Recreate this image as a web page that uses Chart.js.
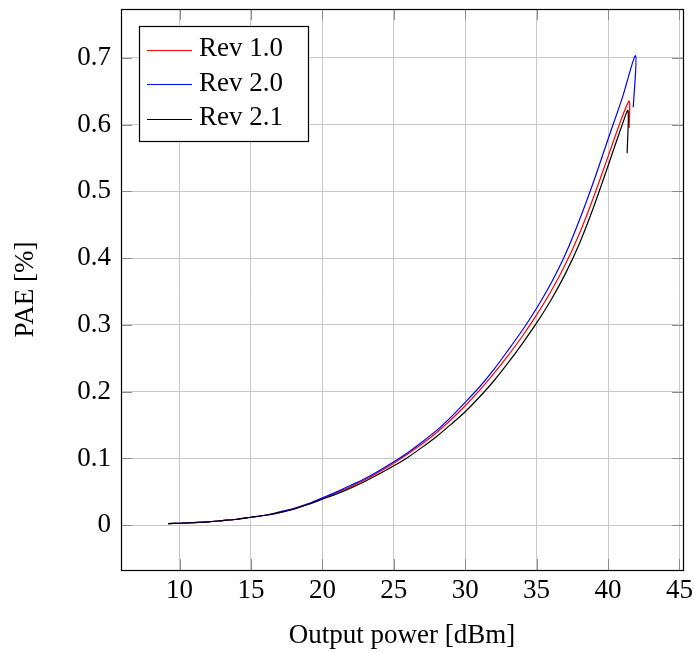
<!DOCTYPE html>
<html>
<head>
<meta charset="utf-8">
<script src="https://cdn.jsdelivr.net/npm/chart.js@4.4.1/dist/chart.umd.min.js"></script>
<style>
  html, body { margin: 0; padding: 0; background: #fff; }
  #wrap { width: 694px; height: 652px; }
</style>
</head>
<body>
<div id="wrap"><canvas id="chart" width="694" height="652"></canvas></div>
<script>
// output power [dBm] and PAE readings per revision
var rev10Pout = [9.2, 10, 11, 12, 13, 14, 15, 16, 17, 18, 19, 20, 21, 22, 23, 24, 25, 26, 27, 28, 29, 30, 31, 32, 33, 34, 35, 36, 37, 38, 39, 40, 41, 41.46, 41.52, 41.48];
var rev10Pae  = [0.0025, 0.003, 0.004, 0.005, 0.007, 0.009, 0.012, 0.015, 0.019, 0.025, 0.032, 0.040, 0.049, 0.058, 0.068, 0.080, 0.093, 0.107, 0.122, 0.139, 0.158, 0.179, 0.202, 0.227, 0.254, 0.283, 0.315, 0.350, 0.390, 0.437, 0.492, 0.552, 0.612, 0.635, 0.632, 0.595];

var rev20Pout = [9.2, 10, 11, 12, 13, 14, 15, 16, 17, 18, 19, 20, 21, 22, 23, 24, 25, 26, 27, 28, 29, 30, 31, 32, 33, 34, 35, 36, 37, 38, 39, 40, 41, 41.93, 41.77];
var rev20Pae  = [0.0025, 0.003, 0.004, 0.005, 0.007, 0.009, 0.012, 0.015, 0.020, 0.025, 0.032, 0.041, 0.050, 0.060, 0.070, 0.082, 0.095, 0.109, 0.125, 0.142, 0.162, 0.184, 0.207, 0.233, 0.262, 0.292, 0.325, 0.362, 0.405, 0.457, 0.515, 0.578, 0.640, 0.703, 0.626];

var rev21Pout = [9.2, 10, 11, 12, 13, 14, 15, 16, 17, 18, 19, 20, 21, 22, 23, 24, 25, 26, 27, 28, 29, 30, 31, 32, 33, 34, 35, 36, 37, 38, 39, 40, 41, 41.4, 41.34];
var rev21Pae  = [0.0025, 0.003, 0.004, 0.005, 0.007, 0.009, 0.012, 0.015, 0.019, 0.024, 0.031, 0.039, 0.047, 0.056, 0.066, 0.077, 0.089, 0.102, 0.117, 0.133, 0.151, 0.170, 0.192, 0.216, 0.243, 0.272, 0.303, 0.337, 0.376, 0.422, 0.477, 0.538, 0.600, 0.621, 0.557];

var seriesNames = ['Rev 1.0', 'Rev 2.0', 'Rev 2.1'];
var seriesColors = ['#ff0000', '#0000ff', '#000000'];

var xTicks = [10, 15, 20, 25, 30, 35, 40, 45];
var yTicks = [0, 0.1, 0.2, 0.3, 0.4, 0.5, 0.6, 0.7];

var FONT = '"Liberation Serif", "Times New Roman", serif';

function toPoints(xs, ys){
    var pts = [];
    for (var i = 0; i < xs.length; i++){
        pts.push({x: xs[i], y: ys[i]});
    }
    return pts;
}

// box, inside ticks and legend drawn like pgfplots
var frame = {
    id: 'frame',
    beforeDatasetsDraw: function(chart){
        var ctx = chart.ctx, a = chart.chartArea;
        var xs = chart.scales.x, ys = chart.scales.y;
        var len = 11;
        ctx.save();
        ctx.strokeStyle = '#8c8c8c';
        ctx.lineWidth = 1;
        ctx.beginPath();
        xTicks.forEach(function(v){
            var px = Math.round(xs.getPixelForValue(v)) + 0.5;
            ctx.moveTo(px, a.bottom); ctx.lineTo(px, a.bottom - len);
            ctx.moveTo(px, a.top); ctx.lineTo(px, a.top + len);
        });
        yTicks.forEach(function(v){
            var py = Math.round(ys.getPixelForValue(v)) + 0.5;
            ctx.moveTo(a.left, py); ctx.lineTo(a.left + len, py);
            ctx.moveTo(a.right, py); ctx.lineTo(a.right - len, py);
        });
        ctx.stroke();
        ctx.restore();
    },
    afterDraw: function(chart){
        var ctx = chart.ctx, a = chart.chartArea;
        ctx.save();
        ctx.strokeStyle = '#000';
        ctx.lineWidth = 1.2;
        ctx.strokeRect(Math.round(a.left) + 0.5, Math.round(a.top) + 0.5,
                       Math.round(a.right - a.left), Math.round(a.bottom - a.top));

        // legend
        var bx = 139.5, by = 26.5, bw = 169, bh = 115;
        ctx.fillStyle = '#fff';
        ctx.fillRect(bx, by, bw, bh);
        ctx.strokeRect(bx, by, bw, bh);
        ctx.font = '27px ' + FONT;
        ctx.textBaseline = 'alphabetic';
        ctx.textAlign = 'left';
        chart.data.datasets.forEach(function(ds, i){
            var ly = 49.5 + i * 34.5;
            ctx.strokeStyle = ds.borderColor;
            ctx.lineWidth = 1;
            ctx.beginPath();
            ctx.moveTo(147, Math.round(ly) + 0.5);
            ctx.lineTo(192, Math.round(ly) + 0.5);
            ctx.stroke();
            ctx.fillStyle = '#000';
            ctx.fillText(ds.label, 199, ly + 6.5);
        });
        ctx.restore();
    }
};

new Chart(document.getElementById('chart'), {
    type: 'line',
    data: {
        datasets: [
            {
                label: seriesNames[0],
                data: toPoints(rev10Pout, rev10Pae),
                borderColor: seriesColors[0],
                order: 3
            },
            {
                label: seriesNames[1],
                data: toPoints(rev20Pout, rev20Pae),
                borderColor: seriesColors[1],
                order: 2
            },
            {
                label: seriesNames[2],
                data: toPoints(rev21Pout, rev21Pae),
                borderColor: seriesColors[2],
                order: 1
            }
        ]
    },
    options: {
        responsive: false,
        animation: false,
        layout: { padding: { top: 9, right: 11, bottom: 0, left: 0 } },
        elements: {
            point: { radius: 0 },
            line: { borderWidth: 1.2, tension: 0.3, fill: false }
        },
        plugins: {
            legend: { display: false },
            tooltip: { enabled: false }
        },
        scales: {
            x: {
                type: 'linear',
                min: 5.9,
                max: 45.25,
                afterBuildTicks: function(scale){
                    scale.ticks = xTicks.map(function(v){ return {value: v}; });
                },
                afterFit: function(scale){
                    scale.height = 82;
                    scale.paddingLeft = 0;
                    scale.paddingRight = 0;
                },
                grid: { color: '#c8c8c8', lineWidth: 1, drawTicks: false },
                border: { display: false },
                ticks: {
                    color: '#000',
                    padding: 5,
                    maxRotation: 0,
                    font: { family: FONT, size: 27 }
                },
                title: {
                    display: true,
                    text: 'Output power [dBm]',
                    color: '#000',
                    padding: { top: 0, bottom: 0 },
                    font: { family: FONT, size: 27 }
                }
            },
            y: {
                type: 'linear',
                min: -0.067,
                max: 0.773,
                afterBuildTicks: function(scale){
                    scale.ticks = yTicks.map(function(v){ return {value: v}; });
                },
                afterFit: function(scale){
                    scale.width = 121;
                    scale.paddingTop = 0;
                    scale.paddingBottom = 0;
                },
                grid: { color: '#c8c8c8', lineWidth: 1, drawTicks: false },
                border: { display: false },
                ticks: {
                    color: '#000',
                    padding: 10,
                    font: { family: FONT, size: 27 },
                    callback: function(v){ return String(v); }
                },
                title: {
                    display: true,
                    text: 'PAE [%]',
                    color: '#000',
                    padding: { top: 10, bottom: 0 },
                    font: { family: FONT, size: 27 }
                }
            }
        }
    },
    plugins: [frame]
});
</script>
</body>
</html>
